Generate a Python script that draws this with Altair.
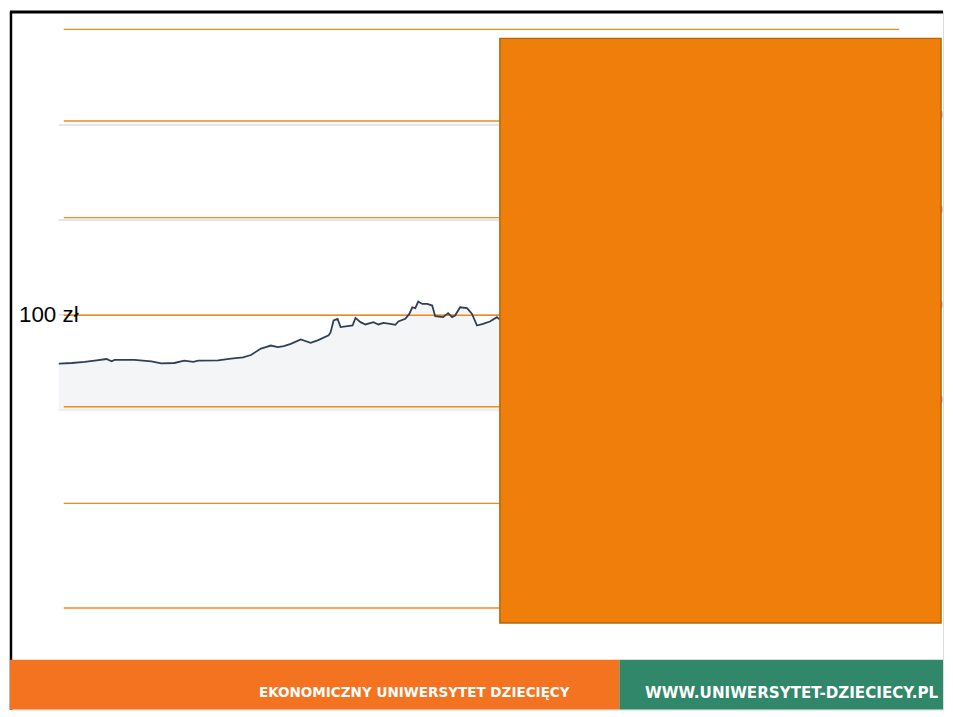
import altair as alt
import pandas as pd

# ---- data -------------------------------------------------------------
days = [0, 13, 26, 36, 48, 53, 56, 76, 93, 103, 116, 126, 135, 140, 160, 173,
        185, 193, 203, 208, 213, 220, 226, 233, 243, 253, 260, 271, 273, 276,
        280, 283, 290, 295, 298, 303, 308, 316, 321, 326, 333, 338, 341, 348,
        352, 355, 358, 361, 365, 370, 375, 378, 386, 391, 395, 398, 403, 410,
        415, 420, 426, 433, 440, 442, 446]
prices = [48.6, 49.3, 50.4, 51.7, 53.5, 51.1, 52.5, 52.5, 51.1, 49.0,
          49.3, 51.7, 50.4, 51.7, 52.1, 53.8, 55.3, 57.7, 64.5, 66.1,
          67.7, 66.1, 67.1, 69.5, 74.2, 70.6, 73.1, 78.4, 81.8, 94.1,
          95.8, 87.1, 88.1, 88.8, 96.8, 92.3, 89.9, 92.3, 89.9, 91.6,
          90.5, 89.5, 93.0, 95.8, 101.0, 108.0, 107.0, 114.0, 111.5, 111.5,
          109.8, 98.6, 97.6, 101.8, 97.6, 99.3, 108.0, 107.0, 101.0, 88.8,
          90.5, 93.0, 97.6, 95.8, 96.5]
tick_values = [0, 100, 200, 300]
tick_labels = ["0", "100", "200", "300"]
left_label = "100 zł"
footer_left = "EKONOMICZNY UNIWERSYTET DZIECIĘCY"
footer_right = "WWW.UNIWERSYTET-DZIECIECY.PL"

df = pd.DataFrame({"day": days, "price": prices})
ticks = pd.DataFrame({"price": tick_values, "label": tick_labels})
one = pd.DataFrame({"k": [0]})

# ---- scales -----------------------------------------------------------
xs = alt.Scale(domain=[0, 443], range=[49, 492], nice=False, zero=False)
ys = alt.Scale(domain=[0, 300], range=[400, 114], nice=False)
X = alt.X("day:Q", scale=xs, axis=None)
Y = alt.Y("price:Q", scale=ys, axis=None)

W, H = 937, 701
ORANGE_LINE = "#F08A1C"
layers = []

# black slide border
layers.append(alt.Chart(one).mark_rule(color="#000000", strokeWidth=3).encode(
    x=alt.value(0), x2=alt.value(W), y=alt.value(0.5)))
layers.append(alt.Chart(one).mark_rule(color="#000000", strokeWidth=2.5).encode(
    x=alt.value(1), y=alt.value(0), y2=alt.value(H)))

# gridlines of the embedded chart
layers.append(alt.Chart(ticks).mark_rule(color="#dcdde0", strokeWidth=1.5).encode(
    y=Y, x=alt.value(49), x2=alt.value(935)))

# area + line
layers.append(alt.Chart(df).mark_area(color="#f4f5f7").encode(x=X, y=Y))

# orange ruled lines of the slide
for yy in [18, 110, 207, 305, 397, 494, 599]:
    layers.append(alt.Chart(one).mark_rule(color=ORANGE_LINE, strokeWidth=1.4).encode(
        x=alt.value(54), x2=alt.value(893), y=alt.value(yy)))

layers.append(alt.Chart(df).mark_line(color="#2f3f55", strokeWidth=1.8).encode(x=X, y=Y))

# right-hand axis labels (mostly hidden behind the box)
layers.append(alt.Chart(ticks).mark_text(align="right", baseline="bottom", dy=-3,
                                         fontSize=13, color="#7a8aa0", font="Roboto").encode(
    y=Y, x=alt.value(W), text="label:N"))

# big orange box
layers.append(alt.Chart(one).mark_rect(color="#EF7F0A", stroke="#B5650F", strokeWidth=1.5).encode(
    x=alt.value(492), x2=alt.value(935), y=alt.value(27), y2=alt.value(614)))

# footer bands
layers.append(alt.Chart(one).mark_rect(color="#F47321").encode(
    x=alt.value(0), x2=alt.value(612), y=alt.value(651), y2=alt.value(H)))
layers.append(alt.Chart(one).mark_rect(color="#31876A").encode(
    x=alt.value(612), x2=alt.value(W), y=alt.value(651), y2=alt.value(H)))
layers.append(alt.Chart(one).mark_text(color="white", fontSize=13.6, fontWeight="bold",
                                       font="DejaVu Sans", align="center", baseline="middle").encode(
    x=alt.value(406), y=alt.value(684), text=alt.value(footer_left)))
layers.append(alt.Chart(one).mark_text(color="white", fontSize=15.2, fontWeight="bold",
                                       font="DejaVu Sans", align="center", baseline="middle").encode(
    x=alt.value(785), y=alt.value(684), text=alt.value(footer_right)))

# "100 zł" label
layers.append(alt.Chart(one).mark_text(color="#000000", fontSize=22.5, font="Liberation Sans",
                                       align="left", baseline="middle").encode(
    x=alt.value(9), y=alt.value(305), text=alt.value(left_label)))

chart = alt.layer(*layers).properties(width=W, height=H, padding=0).configure_view(
    stroke=None).configure(background="white")

chart.save("out.html", embed_options={"renderer": "svg", "actions": False})
